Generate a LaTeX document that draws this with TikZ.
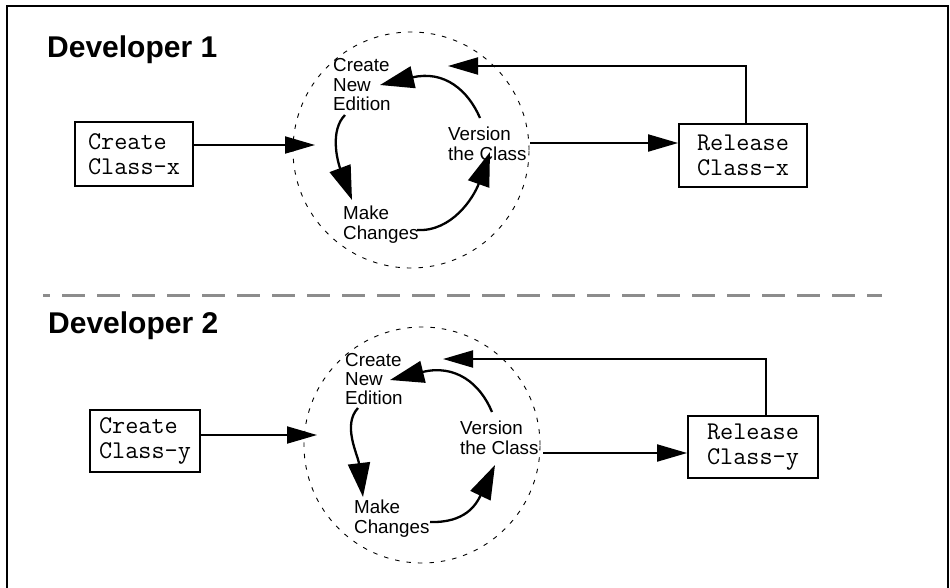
\documentclass[tikz,border=0pt]{standalone}
\usepackage{fontspec}
\setmainfont{Liberation Sans}
\usetikzlibrary{arrows.meta}

\begin{document}
\begin{tikzpicture}[x=1pt,y=-1pt,
  heading/.style={font=\bfseries\fontsize{30}{32}\selectfont, inner sep=0pt, anchor=base west},
  lbl/.style={font=\fontsize{18.8}{19.2}\selectfont, align=left, inner sep=0pt, anchor=north west},
  codebox/.style={draw, line width=1.8pt, inner sep=0pt, align=left,
    font=\ttfamily\fontsize{25.5}{25.5}\selectfont},
  cycle/.style={draw, line width=0.9pt, dash pattern=on 4.5pt off 7pt},
  sarr/.style={line width=2pt, -{Triangle[length=30pt,width=17pt]}},
  carr/.style={line width=2.3pt, -{Triangle[length=34pt,width=22pt]}},
  sep/.style={draw=black!45, line width=3pt, dash pattern=on 23pt off 12pt, dash phase=16pt}
]
\useasboundingbox (0,0) rectangle (950,587);

% outer frame, open at the bottom
\draw[line width=2.5pt] (7,590) -- (7,6) -- (948,6) -- (948,590);

% ---------------- first developer ----------------
\node[heading] (dev1) at (47,57) {Developer 1};

\node[cycle, circle, minimum size=236pt, inner sep=0pt] (loop1) at (411,150) {};

\node[codebox, minimum width=118pt, minimum height=64pt] (cx) at (134,154) {Create\\Class-x};
\node[codebox, minimum width=128pt, minimum height=63pt] (rx) at (743,155.5) {Release\\Class-x};

\node[lbl] (ed1) at (333,58.5) {Create\\New\\Edition};
\node[lbl] (ve1) at (448,127) {Version\\the Class};
\node[lbl] (mc1) at (343,206) {Make\\Changes};

\coordinate (in1) at (315,145);
\coordinate (out1) at (530,143);
\coordinate (up1) at (746,66);
\coordinate (back1) at (448,66);

\draw[sarr] (cx.east |- in1) -- (in1);
\draw[sarr] (out1) -- (out1 -| rx.west);
\draw[sarr] (up1 |- rx.north) -- (up1) -- (back1);

\coordinate (e1a) at (345,115);  \coordinate (m1a) at (352,200);
\coordinate (m1b) at (417,230);  \coordinate (v1b) at (490,152);
\coordinate (v1c) at (480,118);  \coordinate (e1c) at (380,85);
\draw[carr] (e1a) .. controls (330,130) and (337,160) .. (m1a);
\draw[carr] (m1b) .. controls (452,232) and (474,197) .. (v1b);
\draw[carr] (v1c) .. controls (468,90) and (444,70) .. (e1c);

% separator between the two developers
\coordinate (sepL) at (43,295);
\coordinate (sepR) at (882,295);
\draw[sep] (sepL) -- (sepR);

% ---------------- second developer ----------------
\node[heading] (dev2) at (48,333) {Developer 2};

\node[cycle, circle, minimum size=236pt, inner sep=0pt] (loop2) at (422,445) {};

\node[codebox, minimum width=110pt, minimum height=62pt] (cy) at (145,441) {Create\\Class-y};
\node[codebox, minimum width=130pt, minimum height=62pt] (ry) at (753,447) {Release\\Class-y};

\node[lbl] (ed2) at (345,352.7) {Create\\New\\Edition};
\node[lbl] (ve2) at (460,421) {Version\\the Class};
\node[lbl] (mc2) at (354,500) {Make\\Changes};

\coordinate (in2) at (317,435);
\coordinate (out2) at (543,453);
\coordinate (up2) at (766,359);
\coordinate (back2) at (443,359);

\draw[sarr] (cy.east |- in2) -- (in2);
\draw[sarr] (out2) -- (out2 -| ry.west);
\draw[sarr] (up2 |- ry.north) -- (up2) -- (back2);

\coordinate (e2a) at (358,408);  \coordinate (m2a) at (363,497);
\coordinate (m2b) at (430,522);  \coordinate (v2b) at (495,465);
\coordinate (v2c) at (492,412);  \coordinate (e2c) at (390,380);
\draw[carr] (e2a) .. controls (342,425) and (358,455) .. (m2a);
\draw[carr] (m2b) .. controls (465,523) and (476,505) .. (v2b);
\draw[carr] (v2c) .. controls (480,383) and (455,364) .. (e2c);
\end{tikzpicture}
\end{document}
